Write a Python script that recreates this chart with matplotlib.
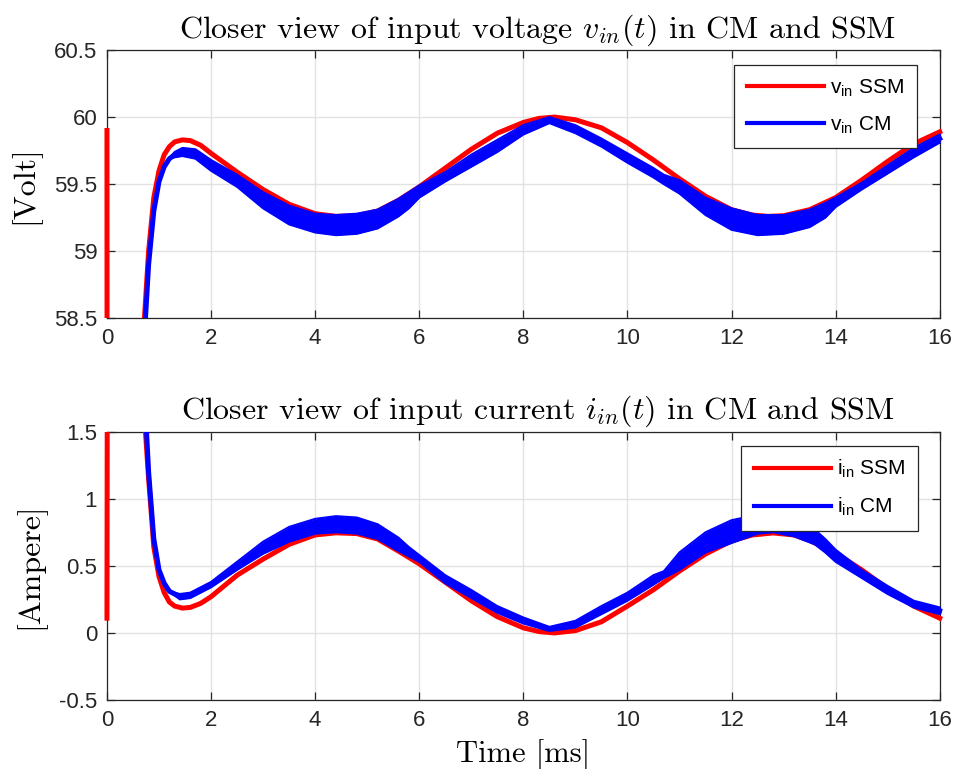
import matplotlib
matplotlib.use('Agg')
import matplotlib.pyplot as plt
from matplotlib.lines import Line2D
from matplotlib.transforms import Bbox, TransformedBbox

plt.rcParams['font.family'] = 'Liberation Sans'
plt.rcParams['mathtext.fontset'] = 'custom'
plt.rcParams['mathtext.rm'] = 'Liberation Sans'
plt.rcParams['mathtext.it'] = 'Liberation Sans:italic'

# ---- input voltage [V] ----
t_v_ssm = [0, 0.01, 0.62, 0.72, 0.8, 0.9, 1.0, 1.1, 1.2, 1.3, 1.45, 1.6,
           1.8, 2.0, 2.5, 3.0, 3.5, 4.0, 4.4, 4.8, 5.2, 5.6, 6.0,
           6.5, 7.0, 7.5, 8.0, 8.3, 8.6, 9.0, 9.5, 10.0, 10.5, 11.0,
           11.5, 12.0, 12.4, 12.7, 13.0, 13.5, 14.0, 14.5, 15.0, 15.5, 16.0]
v_ssm = [59.9, 50.0, 58.0, 58.5, 59.0, 59.40, 59.60, 59.72, 59.78, 59.815, 59.83, 59.825,
         59.79, 59.73, 59.59, 59.46, 59.35, 59.28, 59.26, 59.265, 59.30, 59.38, 59.48,
         59.62, 59.76, 59.88, 59.96, 59.99, 60.0, 59.98, 59.92, 59.81, 59.68, 59.54,
         59.41, 59.31, 59.27, 59.26, 59.265, 59.31, 59.40, 59.53, 59.67, 59.80, 59.89]

t_v_cm = [0.5, 0.62, 0.74, 0.8, 0.9, 1.0, 1.1, 1.2, 1.3, 1.45, 1.7,
          2.0, 2.5, 3.0, 3.5, 4.0, 4.4, 4.8, 5.2, 5.6, 5.8, 6.0, 6.5,
          7.0, 7.5, 8.0, 8.5, 9.0, 9.5, 10.0, 10.5, 10.7, 11.0,
          11.5, 12.0, 12.5, 13.0, 13.5, 13.8, 14.0, 14.5, 15.0, 15.5, 16.0]
v_cm_top = [55.0, 57.9, 58.5, 58.9, 59.30, 59.52, 59.63, 59.69, 59.74, 59.77, 59.76,
            59.68, 59.57, 59.44, 59.34, 59.28, 59.27, 59.28, 59.31, 59.39, 59.44, 59.49, 59.59,
            59.72, 59.83, 59.94, 60.0, 59.94, 59.84, 59.73, 59.62, 59.57, 59.53,
            59.40, 59.32, 59.27, 59.27, 59.31, 59.36, 59.40, 59.51, 59.64, 59.77, 59.87]
v_cm_bot = [55.0, 57.9, 58.5, 58.9, 59.30, 59.52, 59.63, 59.69, 59.70, 59.71, 59.69,
            59.60, 59.48, 59.32, 59.20, 59.14, 59.12, 59.13, 59.17, 59.26, 59.32, 59.40, 59.52,
            59.63, 59.74, 59.87, 59.955, 59.88, 59.78, 59.66, 59.55, 59.50, 59.43,
            59.27, 59.16, 59.12, 59.13, 59.18, 59.25, 59.33, 59.46, 59.58, 59.70, 59.81]

# ---- input current [A] ----
t_i_ssm = [0, 0.01, 0.62, 0.74, 0.8, 0.85, 0.9, 1.0, 1.1, 1.2, 1.3,
           1.45, 1.6, 1.8, 2.0, 2.5, 3.0, 3.5, 4.0, 4.4, 4.8, 5.2, 5.6,
           6.0, 6.5, 7.0, 7.5, 8.0, 8.3, 8.6, 9.0, 9.5, 10.0, 10.5,
           11.0, 11.5, 12.0, 12.4, 12.8, 13.2, 13.5, 14.0, 14.5, 15.0, 15.5, 16.0]
i_ssm = [0.11, 3.0, 2.2, 1.5, 1.15, 0.9, 0.64, 0.42, 0.30, 0.23, 0.20,
         0.185, 0.19, 0.22, 0.27, 0.43, 0.55, 0.66, 0.73, 0.746, 0.74, 0.70, 0.61,
         0.515, 0.378, 0.24, 0.121, 0.038, 0.01, 0.0, 0.017, 0.083, 0.20, 0.322,
         0.461, 0.588, 0.686, 0.73, 0.745, 0.73, 0.69, 0.595, 0.47, 0.33, 0.20, 0.11]

t_i_cm = [0.5, 0.76, 0.8, 0.85, 0.9, 1.0, 1.1, 1.2, 1.4, 1.6,
          2.0, 2.5, 3.0, 3.5, 4.0, 4.4, 4.8, 5.2, 5.6, 5.8, 6.0, 6.5,
          7.0, 7.5, 8.0, 8.5, 9.0, 9.5, 10.0, 10.5, 10.7, 11.0,
          11.5, 12.0, 12.5, 12.8, 13.2, 13.6, 13.8, 14.0, 14.5, 15.0, 15.5, 16.0]
i_cm_top = [3.0, 1.5, 1.2, 0.95, 0.70, 0.47, 0.37, 0.31, 0.29, 0.30,
            0.38, 0.53, 0.68, 0.79, 0.85, 0.87, 0.86, 0.81, 0.71, 0.64, 0.58, 0.43,
            0.32, 0.20, 0.115, 0.045, 0.09, 0.20, 0.30, 0.43, 0.46, 0.60,
            0.75, 0.84, 0.88, 0.87, 0.84, 0.77, 0.70, 0.62, 0.47, 0.35, 0.24, 0.19]
i_cm_bot = [3.0, 1.5, 1.2, 0.95, 0.70, 0.47, 0.37, 0.31, 0.25, 0.26,
            0.34, 0.47, 0.59, 0.68, 0.74, 0.75, 0.74, 0.70, 0.61, 0.57, 0.53, 0.37,
            0.26, 0.15, 0.07, 0.015, 0.04, 0.14, 0.24, 0.36, 0.41, 0.47,
            0.60, 0.67, 0.74, 0.75, 0.72, 0.66, 0.60, 0.53, 0.41, 0.29, 0.19, 0.14]

x_ticks = [0, 2, 4, 6, 8, 10, 12, 14, 16]
v_ticks = [58.5, 59, 59.5, 60, 60.5]
v_ticklabels = ['58.5', '59', '59.5', '60', '60.5']
i_ticks = [-0.5, 0, 0.5, 1, 1.5]
i_ticklabels = ['-0.5', '0', '0.5', '1', '1.5']

red = '#ff0000'
blue = '#0000ff'
lw = 3.6
cm_font = dict(fontfamily='cmr10', math_fontfamily='cm')


def clip_wide(ax, artist):
    # let the lines spill a bit past the left/right edge like MATLAB does
    bb = TransformedBbox(Bbox([[-0.01, 0.0], [1.01, 1.0]]), ax.transAxes)
    artist.set_clip_box(bb)


def draw_panel(ax, t_ssm, y_ssm, t_cm, y_top, y_bot, ylim, yticks, yticklabels,
               title, ylabel, leg_labels, leg_anchor):
    ln, = ax.plot(t_ssm, y_ssm, color=red, lw=lw, zorder=3)
    clip_wide(ax, ln)
    fb = ax.fill_between(t_cm, y_bot, y_top, color=blue, lw=0, zorder=4)
    clip_wide(ax, fb)
    mid = [(a + b) / 2 for a, b in zip(y_top, y_bot)]
    ln2, = ax.plot(t_cm, mid, color=blue, lw=lw, zorder=4)
    clip_wide(ax, ln2)
    ln3, = ax.plot(t_cm, y_top, color=blue, lw=1.5, zorder=4)
    ln4, = ax.plot(t_cm, y_bot, color=blue, lw=1.5, zorder=4)
    clip_wide(ax, ln3)
    clip_wide(ax, ln4)

    ax.set_xlim(0, 16)
    ax.set_ylim(*ylim)
    ax.set_xticks(x_ticks)
    ax.set_xticklabels([str(x) for x in x_ticks])
    ax.set_yticks(yticks)
    ax.set_yticklabels(yticklabels)
    ax.grid(True, color='#e2e2e2', lw=1.0)
    ax.set_axisbelow(True)
    ax.tick_params(direction='in', length=6, width=0.9, top=True, right=True,
                   labelsize=16, colors='#262626', pad=7)
    for s in ax.spines.values():
        s.set_color('#262626')
        s.set_linewidth(0.9)
    ax.set_title(title, fontsize=23, pad=9, x=0.517, **cm_font)
    ax.set_ylabel(ylabel, fontsize=23, labelpad=10, **cm_font)

    handles = [Line2D([], [], color=red, lw=3.0), Line2D([], [], color=blue, lw=3.0)]
    leg = ax.legend(handles, leg_labels, loc='upper right', bbox_to_anchor=leg_anchor,
                    borderaxespad=0, fontsize=15, handlelength=3.7, handletextpad=0.3,
                    labelspacing=0.75, fancybox=False, framealpha=1, edgecolor='#262626',
                    borderpad=0.6)
    leg.get_frame().set_linewidth(0.9)
    leg.set_zorder(10)


fig = plt.figure(figsize=(9.55, 7.69), dpi=100)
ax1 = fig.add_axes([0.112, 0.586, 0.872, 0.349])
ax2 = fig.add_axes([0.112, 0.0897, 0.872, 0.349])

draw_panel(ax1, t_v_ssm, v_ssm, t_v_cm, v_cm_top, v_cm_bot, (58.5, 60.5),
           v_ticks, v_ticklabels,
           r'Closer view of input voltage $v_{in}(t)$ in CM and SSM', '[Volt]',
           [r'v$_{\mathregular{in}}$ SSM', r'v$_{\mathregular{in}}$ CM'], (0.9724, 0.944))
draw_panel(ax2, t_i_ssm, i_ssm, t_i_cm, i_cm_top, i_cm_bot, (-0.5, 1.5),
           i_ticks, i_ticklabels,
           r'Closer view of input current $i_{in}(t)$ in CM and SSM', '[Ampere]',
           [r'i$_{\mathregular{in}}$ SSM', r'i$_{\mathregular{in}}$ CM'], (0.9736, 0.948))
ax2.set_xlabel('Time [ms]', fontsize=22, labelpad=6, **cm_font)

fig.savefig('out.png', dpi=100)
